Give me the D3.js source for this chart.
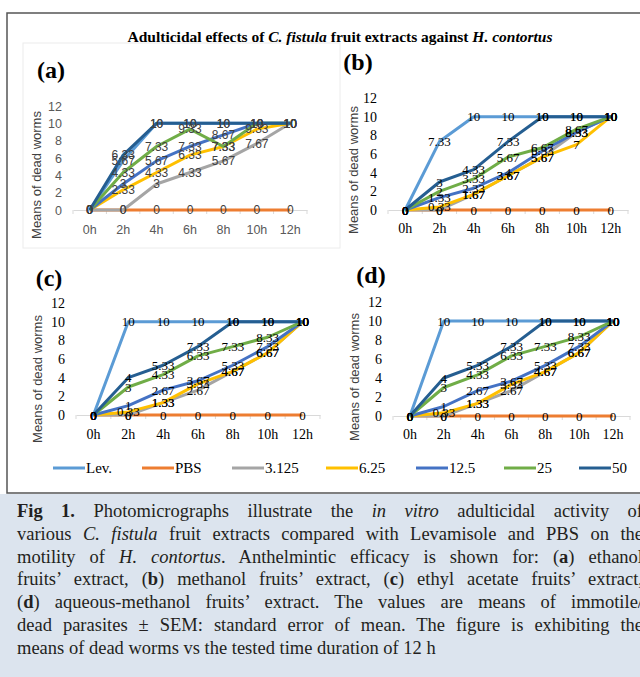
<!DOCTYPE html>
<html>
<head>
<meta charset="utf-8">
<script src="https://cdn.jsdelivr.net/npm/d3@7"></script>
<style>
  body { margin: 0; width: 640px; height: 677px; overflow: hidden; background: #fff; position: relative; }
  svg { position: absolute; left: 0; top: 0; }
  #caption { position: absolute; left: 0; top: 494px; width: 640px; height: 183px; background: #dce4ee; overflow: hidden; }
  #caption .ln { position: absolute; left: 17px; width: 626px; font-family: "Liberation Serif", serif; font-size: 18.5px; color: #231f20;
                 text-align: justify; text-align-last: justify; white-space: nowrap; }
  #caption .ln.last { text-align-last: left; }
</style>
</head>
<body>
<div id="caption"></div>
<script>
// categories and series
const hours = ["0h", "2h", "4h", "6h", "8h", "10h", "12h"];
const seriesNames = ["Lev.", "PBS", "3.125", "6.25", "12.5", "25", "50"];
const yTicks = [0, 2, 4, 6, 8, 10, 12];

// (a) ethanol
const panelA = [
  [0, 5.67, 10, 10, 10, 10, 10],
  [0, 0, 0, 0, 0, 0, 0],
  [0, 0, 3, 4.33, 5.67, 7.67, 10],
  [0, 2.33, 4.33, 6.33, 7.33, 9.33, 10],
  [0, 3, 5.67, 7.33, 8.67, 10, 10],
  [0, 4.33, 7.33, 9.33, 7.33, 10, 10],
  [0, 6.33, 10, 10, 10, 10, 10]
];
// (b) methanol
const panelB = [
  [0, 7.33, 10, 10, 10, 10, 10],
  [0, 0, 0, 0, 0, 0, 0],
  [0, 0, 1.67, 3.67, 5.67, 8.33, 10],
  [0, 0.33, 1.67, 3.67, 5.67, 7, 10],
  [0, 1.33, 2.33, 4, 6.33, 8.33, 10],
  [0, 2, 3.33, 5.67, 6.67, 8.67, 10],
  [0, 3, 4.33, 7.33, 10, 10, 10]
];
// (c) ethyl acetate
const panelC = [
  [0, 10, 10, 10, 10, 10, 10],
  [0, 0, 0, 0, 0, 0, 0],
  [0, 0, 1.33, 2.67, 4.67, 6.67, 10],
  [0, 0.33, 1.33, 3.33, 4.67, 6.67, 10],
  [0, 1, 2.67, 3.67, 5.33, 7.33, 10],
  [0, 3, 4.33, 6.33, 7.33, 8.33, 10],
  [0, 4, 5.33, 7.33, 10, 10, 10]
];
// (d) aqueous-methanol
const panelD = [
  [0, 10, 10, 10, 10, 10, 10],
  [0, 0, 0, 0, 0, 0, 0],
  [0, 0, 1.33, 2.67, 4.67, 6.67, 10],
  [0, 0.33, 1.33, 3.33, 4.67, 6.67, 10],
  [0, 1, 2.67, 3.67, 5.33, 7.33, 10],
  [0, 3, 4.33, 6.33, 7.33, 8.33, 10],
  [0, 4, 5.33, 7.33, 10, 10, 10]
];

const colors = ["#5b9bd5", "#ed7d31", "#a5a5a5", "#ffc000", "#4472c4", "#70ad47", "#255e91"];
const serif = "Liberation Serif, Times New Roman, serif";
const sans = "Liberation Sans, Arial, sans-serif";

// layout of the four panels
const panels = [
  {name: "(a)", values: panelA, left: 73, right: 307, bottom: 210, top: 106, sans: true,
   tagX: 51, tagY: 70, titleX: 36, titleY: 175, xLabY: 230},
  {name: "(b)", values: panelB, left: 388, right: 628, bottom: 210, top: 98, sans: false,
   tagX: 358, tagY: 62, titleX: 353, titleY: 170, xLabY: 228},
  {name: "(c)", values: panelC, left: 76, right: 320, bottom: 415, top: 303, sans: false,
   tagX: 49, tagY: 278, titleX: 37, titleY: 379, xLabY: 434},
  {name: "(d)", values: panelD, left: 393, right: 630, bottom: 416, top: 302, sans: false,
   tagX: 371, tagY: 275, titleX: 354, titleY: 377, xLabY: 434}
];

let svg = d3.select("body").append("svg")
    .attr("width", 640)
    .attr("height", 494);

// outer frame
svg.append("rect")
    .attr("x", 7).attr("y", 13).attr("width", 660).attr("height", 480)
    .attr("fill", "none").attr("stroke", "#555").attr("stroke-width", 1.5);

// chart-area box of panel (a)
svg.append("rect")
    .attr("x", 23).attr("y", 43).attr("width", 317).attr("height", 205)
    .attr("fill", "none").attr("stroke", "#ececec").attr("stroke-width", 1);

// main title
let title = svg.append("text")
    .attr("x", 340).attr("y", 37).attr("dy", "0.35em")
    .attr("text-anchor", "middle")
    .style("font-family", serif).attr("font-weight", "bold").attr("font-size", 15.5);
title.append("tspan").text("Adulticidal effects of ");
title.append("tspan").attr("font-style", "italic").text("C. fistula");
title.append("tspan").text(" fruit extracts against ");
title.append("tspan").attr("font-style", "italic").text("H. contortus");

panels.forEach(function(p) {
  let x = d3.scaleBand().domain(hours).range([p.left, p.right]);
  let y = d3.scaleLinear().domain([0, 12]).range([p.bottom, p.top]);
  let cx = function(i) { return x(hours[i]) + x.bandwidth() / 2; };
  let font = p.sans ? sans : serif;
  let g = svg.append("g");

  // panel tag
  g.append("text")
      .attr("x", p.tagX).attr("y", p.tagY).attr("dy", "0.35em")
      .attr("text-anchor", "middle")
      .style("font-family", serif).attr("font-weight", "bold").attr("font-size", 24)
      .text(p.name);

  // y axis
  let ya = g.append("g")
      .attr("transform", "translate(" + p.left + ",0)")
      .call(d3.axisLeft(y).tickValues(yTicks).tickSize(0).tickPadding(11));
  ya.select(".domain").remove();
  ya.selectAll("text")
      .style("font-family", font)
      .attr("font-size", p.sans ? 12.5 : 14)
      .attr("fill", p.sans ? "#595959" : "#000");

  // x axis
  let xa = g.append("g")
      .attr("transform", "translate(0," + p.bottom + ")")
      .call(d3.axisBottom(x).tickSize(0).tickPadding(0));
  xa.select(".domain").attr("stroke", "#d9d9d9");
  xa.selectAll("text")
      .attr("y", p.xLabY - p.bottom).attr("dy", "0.35em")
      .style("font-family", font)
      .attr("font-size", p.sans ? 12.5 : 14)
      .attr("fill", p.sans ? "#595959" : "#000");
  xa.selectAll(".edge")
      .data(hours.map(function(h) { return x(h); }).concat([p.right]))
      .enter().append("line")
      .attr("x1", function(d) { return d; }).attr("x2", function(d) { return d; })
      .attr("y1", 0).attr("y2", 4)
      .attr("stroke", "#d9d9d9");

  // y axis title
  g.append("text")
      .attr("transform", "translate(" + p.titleX + "," + p.titleY + ") rotate(-90)")
      .attr("dy", "0.35em")
      .attr("text-anchor", "middle")
      .style("font-family", sans).attr("font-size", 13).attr("fill", "#404040")
      .text("Means of dead worms");

  // lines
  let line = d3.line()
      .x(function(d, i) { return cx(i); })
      .y(function(d) { return y(d); });
  g.selectAll(".series")
      .data(p.values)
      .enter().append("path")
      .attr("class", "series")
      .attr("d", line)
      .attr("fill", "none")
      .attr("stroke", function(d, i) { return colors[i]; })
      .attr("stroke-width", 3)
      .attr("stroke-linejoin", "round");

  // data labels on top of all lines
  p.values.forEach(function(vals) {
    g.append("g").selectAll("text")
        .data(vals)
        .enter().append("text")
        .attr("x", function(d, i) { return cx(i); })
        .attr("y", function(d) { return y(d); })
        .attr("dy", "0.35em")
        .attr("text-anchor", "middle")
        .style("font-family", font)
        .attr("font-size", p.sans ? 12 : 13)
        .attr("fill", p.sans ? "#404040" : "#000")
        .text(function(d) { return d; });
  });
});

// legend
let legendX = [53, 142, 232, 326, 416, 504, 579];
let legend = svg.append("g").selectAll("g")
    .data(seriesNames)
    .enter().append("g")
    .attr("transform", function(d, i) { return "translate(" + legendX[i] + ",468)"; });
legend.append("line")
    .attr("x1", 0).attr("x2", 32)
    .attr("stroke", function(d, i) { return colors[i]; })
    .attr("stroke-width", 3);
legend.append("text")
    .attr("x", 33).attr("dy", "0.35em")
    .style("font-family", serif).attr("font-size", 15)
    .text(function(d) { return d; });

// caption
const captionLines = [
  "<b>Fig 1.</b> Photomicrographs illustrate the <i>in vitro</i> adulticidal activity of",
  "various <i>C. fistula</i> fruit extracts compared with Levamisole and PBS on the",
  "motility of <i>H. contortus</i>. Anthelmintic efficacy is shown for: (<b>a</b>) ethanol",
  "fruits’ extract, (<b>b</b>) methanol fruits’ extract, (<b>c</b>) ethyl acetate fruits’ extract,",
  "(<b>d</b>) aqueous-methanol fruits’ extract. The values are means of immotile/",
  "dead parasites ± SEM: standard error of mean. The figure is exhibiting the",
  "means of dead worms vs the tested time duration of 12 h"
];
d3.select("#caption").selectAll("div")
    .data(captionLines)
    .enter().append("div")
    .attr("class", function(d, i) { return i === captionLines.length - 1 ? "ln last" : "ln"; })
    .style("top", function(d, i) { return (7 + i * 22.8) + "px"; })
    .html(function(d) { return d; });
</script>
</body>
</html>
